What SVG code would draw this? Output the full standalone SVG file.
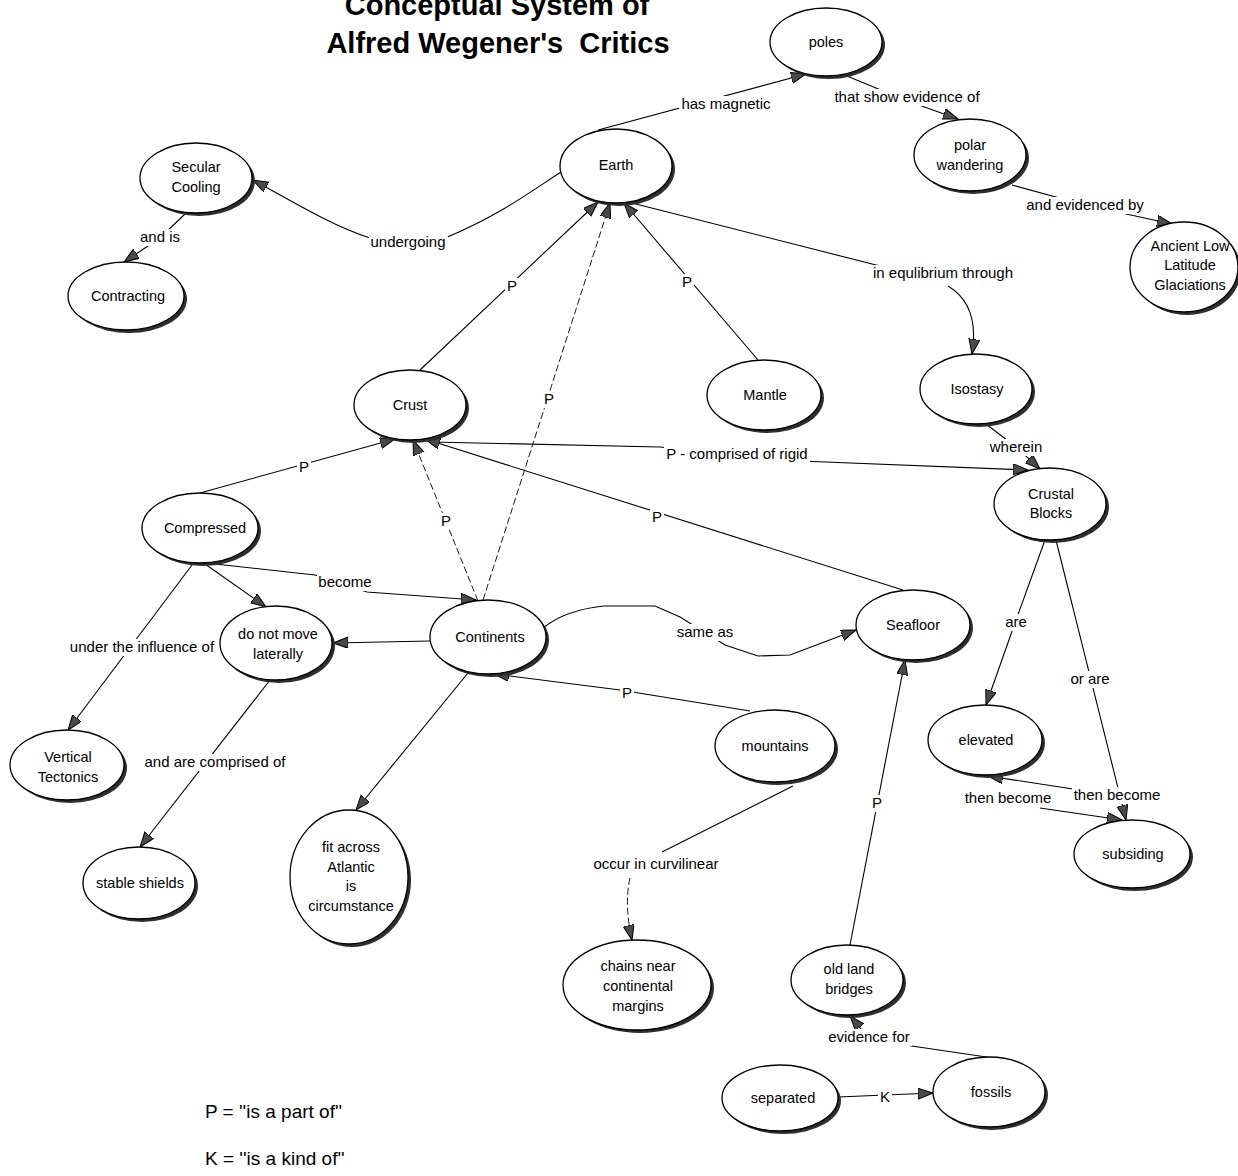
<svg xmlns="http://www.w3.org/2000/svg" width="1238" height="1176" viewBox="0 0 1238 1176">
<style>
text{font-family:"Liberation Sans",Arial,sans-serif;fill:#000}
.title{font-size:29px;font-weight:bold;text-anchor:middle}
.nt{font-size:14.5px;text-anchor:middle}
.lbl{font-size:15px;text-anchor:middle}
.bg{fill:#fff}
.legend{font-size:19px}
.c{fill:none;stroke:#000;stroke-width:1.1}
.d{fill:none;stroke:#000;stroke-width:0.9;stroke-dasharray:7 3}
.a{marker-end:url(#arr)}
.sh{fill:#2e2e2e}
.nd{fill:#fff;stroke:#000;stroke-width:1.3}
</style>
<defs>
<marker id="arr" markerUnits="userSpaceOnUse" markerWidth="17" markerHeight="12" refX="15" refY="5.5" orient="auto">
<path d="M0,0 L15,5.5 L0,11 z" fill="#4a4a4a" stroke="#000" stroke-width="1"/>
</marker>
</defs>
<rect width="1238" height="1176" fill="#fff"/>
<g id="title">
<text class="title" x="497" y="15">Conceptual System of</text>
<text class="title" x="498" y="53">Alfred Wegener's&#160; Critics</text>
</g>
<g id="connectors">
<path class="c a" d="M598,130 L806,74"/>
<path class="c a" d="M842,74 L905,100 L958,119"/>
<path class="c a" d="M1012,185 L1085,205 L1172,224"/>
<path class="c a" d="M561,172 C530,192 500,215 445,238 L370,238 C330,225 290,200 253,180"/>
<path class="c a" d="M186,213 L160,238 L124,262"/>
<path class="c a" d="M420,370 L598,202"/>
<path class="d a" d="M483,600 L610,203"/>
<path class="c a" d="M758,360 L624,203"/>
<path class="c a" d="M628,202 L880,266 M948,286 Q980,305 972,354"/>
<path class="c a" d="M986,424 L1016,447 L1040,469"/>
<path class="c a" d="M432,442 L660,447 L800,461 L1028,470"/>
<path class="c a" d="M200,493 L395,439"/>
<path class="d a" d="M478,601 L413,440"/>
<path class="c a" d="M903,590 L425,439"/>
<path class="c a" d="M215,564 L315,575 L367,592 L476,600"/>
<path class="c a" d="M205,564 L266,607"/>
<path class="c a" d="M192,565 L68,730"/>
<path class="c a" d="M430,641 L333,643"/>
<path class="c a" d="M270,680 L140,847"/>
<path class="c a" d="M468,673 L356,810"/>
<path class="c a" d="M543,628 Q565,610 604,606 L655,606 L680,617 L725,645 L758,656 L790,655 L856,630"/>
<path class="c a" d="M750,711 L620,690 L494,674"/>
<path class="c" d="M793,786 L662,852"/>
<path class="d a" d="M630,878 Q624,905 632,940"/>
<path class="c a" d="M1045,540 L1016,620 L986,705"/>
<path class="c a" d="M1056,540 L1126,820"/>
<path class="c a" d="M1073,789 L988,776"/>
<path class="c a" d="M1040,808 L1122,820"/>
<path class="c a" d="M850,945 L905,660"/>
<path class="c a" d="M1000,1059 L905,1045 L862,1030 L850,1016"/>
<path class="c a" d="M838,1097 L933,1093"/>
</g>
<g id="connector-labels">
<rect class="bg" x="679" y="96" width="94" height="17"/><text class="lbl" x="726" y="109">has magnetic</text>
<rect class="bg" x="832" y="89" width="150" height="17"/><text class="lbl" x="907" y="102">that show evidence of</text>
<rect class="bg" x="1024" y="197" width="122" height="17"/><text class="lbl" x="1085" y="210">and evidenced by</text>
<rect class="bg" x="369" y="234" width="79" height="17"/><text class="lbl" x="408" y="247">undergoing</text>
<rect class="bg" x="138" y="229" width="44" height="17"/><text class="lbl" x="160" y="242">and is</text>
<rect class="bg" x="505" y="278" width="14" height="17"/><text class="lbl" x="512" y="291">P</text>
<rect class="bg" x="542" y="391" width="14" height="17"/><text class="lbl" x="549" y="404">P</text>
<rect class="bg" x="680" y="274" width="14" height="17"/><text class="lbl" x="687" y="287">P</text>
<rect class="bg" x="871" y="265" width="144" height="17"/><text class="lbl" x="943" y="278">in equlibrium through</text>
<rect class="bg" x="988" y="439" width="57" height="17"/><text class="lbl" x="1016" y="452">wherein</text>
<rect class="bg" x="664" y="446" width="146" height="17"/><text class="lbl" x="737" y="459">P - comprised of rigid</text>
<rect class="bg" x="297" y="459" width="14" height="17"/><text class="lbl" x="304" y="472">P</text>
<rect class="bg" x="439" y="513" width="14" height="17"/><text class="lbl" x="446" y="526">P</text>
<rect class="bg" x="650" y="509" width="14" height="17"/><text class="lbl" x="657" y="522">P</text>
<rect class="bg" x="317" y="574" width="57" height="17"/><text class="lbl" x="345" y="587">become</text>
<rect class="bg" x="68" y="639" width="148" height="17"/><text class="lbl" x="142" y="652">under the influence of</text>
<rect class="bg" x="143" y="754" width="145" height="17"/><text class="lbl" x="215" y="767">and are comprised of</text>
<rect class="bg" x="675" y="624" width="61" height="17"/><text class="lbl" x="705" y="637">same as</text>
<rect class="bg" x="620" y="685" width="14" height="17"/><text class="lbl" x="627" y="698">P</text>
<rect class="bg" x="592" y="856" width="129" height="17"/><text class="lbl" x="656" y="869">occur in curvilinear</text>
<rect class="bg" x="1003" y="614" width="26" height="17"/><text class="lbl" x="1016" y="627">are</text>
<rect class="bg" x="1069" y="671" width="43" height="17"/><text class="lbl" x="1090" y="684">or are</text>
<rect class="bg" x="1072" y="787" width="91" height="17"/><text class="lbl" x="1117" y="800">then become</text>
<rect class="bg" x="963" y="790" width="91" height="17"/><text class="lbl" x="1008" y="803">then become</text>
<rect class="bg" x="870" y="795" width="14" height="17"/><text class="lbl" x="877" y="808">P</text>
<rect class="bg" x="826" y="1029" width="86" height="17"/><text class="lbl" x="869" y="1042">evidence for</text>
<rect class="bg" x="878" y="1089" width="14" height="17"/><text class="lbl" x="885" y="1102">K</text>
</g>
<g id="node-poles"><ellipse class="sh" cx="829" cy="45" rx="56" ry="34"/><ellipse class="nd" cx="826" cy="42" rx="56" ry="34"/><text class="nt" x="826" y="47">poles</text></g>
<g id="node-earth"><ellipse class="sh" cx="619" cy="169" rx="56" ry="37"/><ellipse class="nd" cx="616" cy="166" rx="56" ry="37"/><text class="nt" x="616" y="170">Earth</text></g>
<g id="node-secular-cooling"><ellipse class="sh" cx="199" cy="181" rx="56" ry="35"/><ellipse class="nd" cx="196" cy="178" rx="56" ry="35"/><text class="nt" x="196" y="172">Secular</text><text class="nt" x="196" y="192">Cooling</text></g>
<g id="node-contracting"><ellipse class="sh" cx="129" cy="299" rx="58" ry="34"/><ellipse class="nd" cx="126" cy="296" rx="58" ry="34"/><text class="nt" x="128" y="301">Contracting</text></g>
<g id="node-polar-wandering"><ellipse class="sh" cx="973" cy="158" rx="56" ry="36"/><ellipse class="nd" cx="970" cy="155" rx="56" ry="36"/><text class="nt" x="970" y="150">polar</text><text class="nt" x="970" y="170">wandering</text></g>
<g id="node-glaciations"><ellipse class="sh" cx="1187" cy="270" rx="54" ry="45"/><ellipse class="nd" cx="1184" cy="267" rx="54" ry="45"/><text class="nt" x="1190" y="251">Ancient Low</text><text class="nt" x="1190" y="270">Latitude</text><text class="nt" x="1190" y="290">Glaciations</text></g>
<g id="node-crust"><ellipse class="sh" cx="413" cy="408" rx="56" ry="35"/><ellipse class="nd" cx="410" cy="405" rx="56" ry="35"/><text class="nt" x="410" y="410">Crust</text></g>
<g id="node-mantle"><ellipse class="sh" cx="767" cy="398" rx="57" ry="35"/><ellipse class="nd" cx="764" cy="395" rx="57" ry="35"/><text class="nt" x="765" y="400">Mantle</text></g>
<g id="node-isostasy"><ellipse class="sh" cx="979" cy="392" rx="56" ry="35"/><ellipse class="nd" cx="976" cy="389" rx="56" ry="35"/><text class="nt" x="977" y="394">Isostasy</text></g>
<g id="node-crustal-blocks"><ellipse class="sh" cx="1053" cy="507" rx="56" ry="36"/><ellipse class="nd" cx="1050" cy="504" rx="56" ry="36"/><text class="nt" x="1051" y="499">Crustal</text><text class="nt" x="1051" y="518">Blocks</text></g>
<g id="node-compressed"><ellipse class="sh" cx="203" cy="531" rx="58" ry="35"/><ellipse class="nd" cx="200" cy="528" rx="58" ry="35"/><text class="nt" x="205" y="533">Compressed</text></g>
<g id="node-do-not-move"><ellipse class="sh" cx="279" cy="646" rx="56" ry="37"/><ellipse class="nd" cx="276" cy="643" rx="56" ry="37"/><text class="nt" x="278" y="639">do not move</text><text class="nt" x="278" y="659">laterally</text></g>
<g id="node-continents"><ellipse class="sh" cx="491" cy="640" rx="58" ry="37"/><ellipse class="nd" cx="488" cy="637" rx="58" ry="37"/><text class="nt" x="490" y="642">Continents</text></g>
<g id="node-seafloor"><ellipse class="sh" cx="916" cy="628" rx="57" ry="35"/><ellipse class="nd" cx="913" cy="625" rx="57" ry="35"/><text class="nt" x="913" y="630">Seafloor</text></g>
<g id="node-vertical-tectonics"><ellipse class="sh" cx="70" cy="768" rx="57" ry="35"/><ellipse class="nd" cx="67" cy="765" rx="57" ry="35"/><text class="nt" x="68" y="762">Vertical</text><text class="nt" x="68" y="782">Tectonics</text></g>
<g id="node-mountains"><ellipse class="sh" cx="778" cy="749" rx="60" ry="36"/><ellipse class="nd" cx="775" cy="746" rx="60" ry="36"/><text class="nt" x="775" y="751">mountains</text></g>
<g id="node-elevated"><ellipse class="sh" cx="988" cy="743" rx="57" ry="35"/><ellipse class="nd" cx="985" cy="740" rx="57" ry="35"/><text class="nt" x="986" y="745">elevated</text></g>
<g id="node-subsiding"><ellipse class="sh" cx="1135" cy="857" rx="58" ry="34"/><ellipse class="nd" cx="1132" cy="854" rx="58" ry="34"/><text class="nt" x="1133" y="859">subsiding</text></g>
<g id="node-stable-shields"><ellipse class="sh" cx="142" cy="886" rx="56" ry="36"/><ellipse class="nd" cx="139" cy="883" rx="56" ry="36"/><text class="nt" x="140" y="888">stable shields</text></g>
<g id="node-fit-across"><ellipse class="sh" cx="352" cy="880" rx="59" ry="67"/><ellipse class="nd" cx="349" cy="877" rx="59" ry="67"/><text class="nt" x="351" y="852">fit across</text><text class="nt" x="351" y="872">Atlantic</text><text class="nt" x="351" y="891">is</text><text class="nt" x="351" y="911">circumstance</text></g>
<g id="node-chains"><ellipse class="sh" cx="640" cy="988" rx="74" ry="45"/><ellipse class="nd" cx="637" cy="985" rx="74" ry="45"/><text class="nt" x="638" y="971">chains near</text><text class="nt" x="638" y="991">continental</text><text class="nt" x="638" y="1011">margins</text></g>
<g id="node-old-land-bridges"><ellipse class="sh" cx="850" cy="983" rx="56" ry="35"/><ellipse class="nd" cx="847" cy="980" rx="56" ry="35"/><text class="nt" x="849" y="974">old land</text><text class="nt" x="849" y="994">bridges</text></g>
<g id="node-separated"><ellipse class="sh" cx="783" cy="1101" rx="58" ry="33"/><ellipse class="nd" cx="780" cy="1098" rx="58" ry="33"/><text class="nt" x="783" y="1103">separated</text></g>
<g id="node-fossils"><ellipse class="sh" cx="992" cy="1095" rx="56" ry="35"/><ellipse class="nd" cx="989" cy="1092" rx="56" ry="35"/><text class="nt" x="991" y="1097">fossils</text></g>
<g id="legend">
<text class="legend" x="205" y="1118">P = ''is a part of''</text>
<text class="legend" x="205" y="1165">K = ''is a kind of''</text>
</g>
</svg>
